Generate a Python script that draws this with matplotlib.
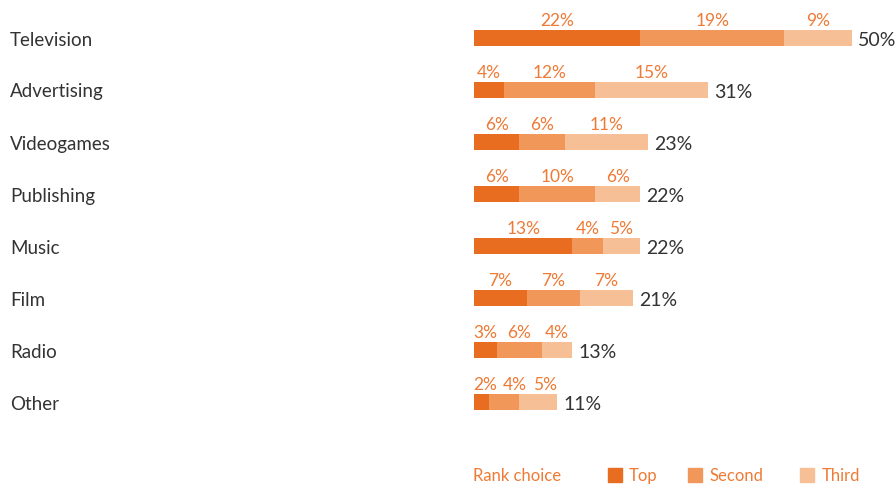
import matplotlib.pyplot as plt
from matplotlib.patches import Rectangle

categories = ['Television', 'Advertising', 'Videogames', 'Publishing', 'Music', 'Film', 'Radio', 'Other']
top = [22, 4, 6, 6, 13, 7, 3, 2]
second = [19, 12, 6, 10, 4, 7, 6, 4]
third = [9, 15, 11, 6, 5, 7, 4, 5]
totals = [50, 31, 23, 22, 22, 21, 13, 11]
series_names = ['Top', 'Second', 'Third']

colors = ['#E96D20', '#F2975A', '#F7BF95']
label_color = '#EE7A35'
text_color = '#333333'
plt.rcParams['font.family'] = ['Lato', 'DejaVu Sans']

W, H = 896, 486
px = 7.56  # pixels per percent
x0 = 474
fig = plt.figure(figsize=(W / 100, H / 100), dpi=100)
ax = fig.add_axes([0, 0, 1, 1])
ax.set_xlim(-x0 / px, (W - x0) / px)
ax.set_ylim((H - 38) / 52, -38 / 52)
ax.axis('off')

bar_h = 16 / 52
left = [0] * len(categories)
for name, vals, c in zip(series_names, [top, second, third], colors):
    ax.barh(range(len(categories)), vals, left=left, height=bar_h, color=c, label=name)
    left = [l + v for l, v in zip(left, vals)]

# segment labels, pushed apart when the segments are too narrow
gap = 8
for i in range(len(categories)):
    vals = [top[i], second[i], third[i]]
    start = 0
    prev_c, prev_w = None, 0
    for v in vals:
        s = f'{v}%'
        w = 10.5 * len(s) + 1  # rough label width in pixels
        c = (start + v / 2) * px
        c = max(c, w / 2)
        if prev_c is not None:
            c = max(c, prev_c + (prev_w + w) / 2 + gap)
        ax.text(c / px, i - bar_h / 2 - 1 / 52, s, ha='center', va='bottom',
                fontsize=12.5, color=label_color)
        prev_c, prev_w = c, w
        start += v

for i, (cat, t) in enumerate(zip(categories, totals)):
    ax.text(10 / W, i + 2 / 52, cat, transform=ax.get_yaxis_transform(), ha='left', va='center',
            fontsize=13.5, color=text_color)
    ax.text(left[i] + 6 / px, i + 2 / 52, f'{t}%', ha='left', va='center', fontsize=14, color=text_color)

# legend row
ly = 1 - 476 / H
fig.text(473 / W, ly, 'Rank choice', ha='left', va='center', fontsize=12, color=label_color)
for sx, tx, name, c in zip([608, 688, 800], [629, 709, 822], series_names, colors):
    fig.patches.append(Rectangle((sx / W, ly - 6 / H), 14 / W, 14 / H, transform=fig.transFigure,
                                 color=c))
    fig.text(tx / W, ly, name, ha='left', va='center', fontsize=12, color=label_color)

fig.savefig('out.png', dpi=100)
